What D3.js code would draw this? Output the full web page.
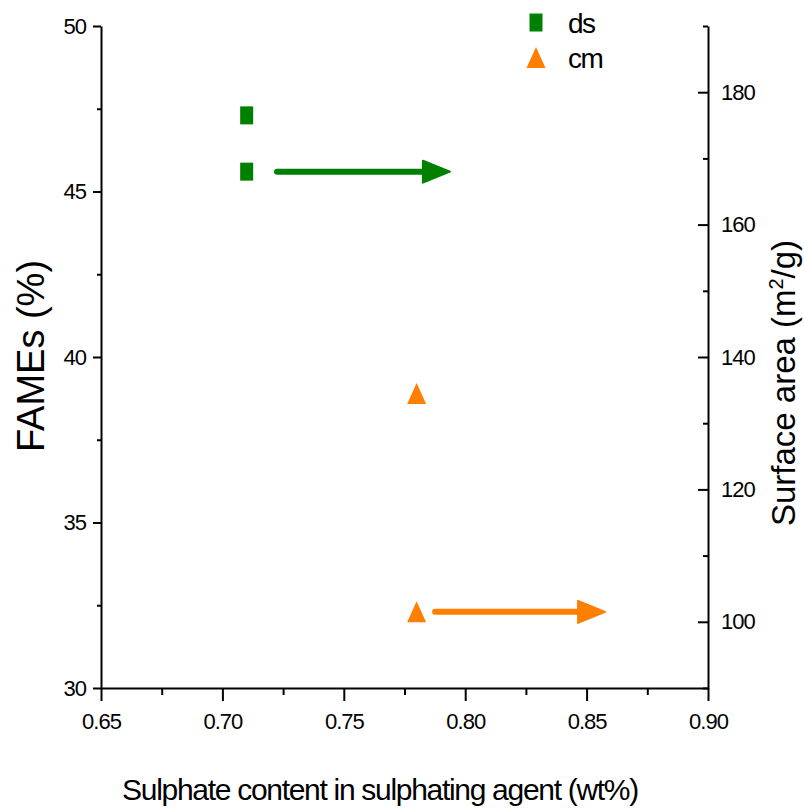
<!DOCTYPE html>
<html>
<head>
<meta charset="utf-8">
<script src="https://cdn.jsdelivr.net/npm/d3@7"></script>
<style>
  body { margin: 0; background: #fff; }
  text { font-family: "Liberation Sans", Arial, sans-serif; fill: #000; }
</style>
</head>
<body>
<script>
// Data
var seriesNames = ["ds", "cm"];
var sulphate = [0.71, 0.78];          // x values (wt%)
var fames = [47.3, 38.9];             // left axis (%)
var surface = [168, 101.5];           // right axis (m2/g)
var colors = ["#008000", "#ff8000"];
// arrows pointing from the surface area point to the right axis (x data units)
var arrowStart = [0.7225, 0.7876];
var arrowEnd = [0.7937, 0.8576];

// Tick values
var xTicks = [0.65, 0.70, 0.75, 0.80, 0.85, 0.90];
var xMinor = [0.675, 0.725, 0.775, 0.825, 0.875];
var yLeftTicks = [30, 35, 40, 45, 50];
var yLeftMinor = [32.5, 37.5, 42.5, 47.5];
var yRightTicks = [100, 120, 140, 160, 180];
var yRightMinor = [90, 110, 130, 150, 170, 190];

var width = 804, height = 808;
var margin = {top: 26, right: 96, bottom: 120, left: 101};
var plotW = width - margin.left - margin.right;
var plotH = height - margin.top - margin.bottom;

var svg = d3.select("body").append("svg")
    .attr("width", width)
    .attr("height", height);

var g = svg.append("g")
    .attr("transform", "translate(" + margin.left + "," + margin.top + ")");

// Scales
var xScale = d3.scaleLinear().domain([0.65, 0.90]).range([0, plotW]);
var yLeft = d3.scaleLinear().domain([30, 50]).range([plotH, 0]);
var yRight = d3.scaleLinear().domain([90, 190]).range([plotH, 0]);

// Axes
function styleAxis(sel) {
  sel.selectAll("path").attr("stroke", "#000").attr("stroke-width", 2);
  sel.selectAll("line").attr("stroke", "#000").attr("stroke-width", 2);
  sel.selectAll("text").style("font-size", "22px").style("letter-spacing", "-1px");
}

var xAxis = g.append("g")
    .attr("transform", "translate(0," + plotH + ")")
    .call(d3.axisBottom(xScale).tickValues(xTicks).tickSize(13).tickSizeOuter(0)
      .tickPadding(12).tickFormat(d3.format(".2f")));
styleAxis(xAxis);
xAxis.selectAll("text").attr("dy", "0.71em");

g.append("g")
    .attr("transform", "translate(0," + plotH + ")")
    .call(d3.axisBottom(xScale).tickValues(xMinor).tickSize(7).tickFormat(""))
    .call(function(s) { s.select(".domain").remove(); styleAxis(s); });

var leftAxis = g.append("g")
    .call(d3.axisLeft(yLeft).tickValues(yLeftTicks).tickSize(8).tickSizeOuter(0).tickPadding(7));
styleAxis(leftAxis);

g.append("g")
    .call(d3.axisLeft(yLeft).tickValues(yLeftMinor).tickSize(4).tickFormat(""))
    .call(function(s) { s.select(".domain").remove(); styleAxis(s); });

var rightAxis = g.append("g")
    .attr("transform", "translate(" + plotW + ",0)")
    .call(d3.axisRight(yRight).tickValues(yRightTicks).tickSize(-10).tickSizeOuter(0).tickPadding(13));
styleAxis(rightAxis);

g.append("g")
    .attr("transform", "translate(" + plotW + ",0)")
    .call(d3.axisRight(yRight).tickValues(yRightMinor).tickSize(-5).tickFormat(""))
    .call(function(s) { s.select(".domain").remove(); styleAxis(s); });

// Markers: square for ds, triangle for cm
function drawMarker(sel, i, cx, cy) {
  if (i === 0) {
    sel.append("rect")
      .attr("x", cx - 6.5).attr("y", cy - 9)
      .attr("width", 13).attr("height", 18)
      .attr("fill", colors[i]);
  } else {
    sel.append("path")
      .attr("d", "M" + cx + "," + (cy - 10.5) + "L" + (cx + 9.5) + "," + (cy + 10.5) +
                 "L" + (cx - 9.5) + "," + (cy + 10.5) + "Z")
      .attr("fill", colors[i]);
  }
}

var marks = g.append("g");
seriesNames.forEach(function(name, i) {
  drawMarker(marks, i, xScale(sulphate[i]), yLeft(fames[i]));
  drawMarker(marks, i, xScale(sulphate[i]), yRight(surface[i]));
});

// Arrows
seriesNames.forEach(function(name, i) {
  var y = yRight(surface[i]);
  var x0 = xScale(arrowStart[i]);
  var x1 = xScale(arrowEnd[i]);
  g.append("line")
    .attr("x1", x0).attr("x2", x1 - 20)
    .attr("y1", y).attr("y2", y)
    .attr("stroke", colors[i])
    .attr("stroke-width", 6)
    .attr("stroke-linecap", "round");
  g.append("path")
    .attr("d", "M" + (x1 - 27) + "," + (y - 11) + "L" + x1 + "," + y +
               "L" + (x1 - 27) + "," + (y + 11) + "Z")
    .attr("fill", colors[i])
    .attr("stroke", colors[i])
    .attr("stroke-width", 2)
    .attr("stroke-linejoin", "round");
});

// Legend
var legend = svg.append("g");
seriesNames.forEach(function(name, i) {
  var ly = 22.5 + i * 35;
  drawMarker(legend, i, 536, ly);
  legend.append("text")
    .attr("x", 568).attr("y", ly + 10)
    .style("font-size", "28px")
    .style("letter-spacing", "-1.5px")
    .text(name);
});

// Axis titles
svg.append("text")
  .attr("x", 380)
  .attr("y", 800)
  .attr("text-anchor", "middle")
  .style("font-size", "30px")
  .style("letter-spacing", "-1.3px")
  .text("Sulphate content in sulphating agent (wt%)");

svg.append("text")
  .attr("transform", "translate(44,356) rotate(-90)")
  .attr("text-anchor", "middle")
  .style("font-size", "38px")
  .text("FAMEs (%)");

var rt = svg.append("text")
  .attr("transform", "translate(795,383) rotate(-90)")
  .attr("text-anchor", "middle")
  .style("font-size", "33px");
rt.append("tspan").text("Surface area (m");
rt.append("tspan").attr("dy", -12).style("font-size", "20px").text("2");
rt.append("tspan").attr("dy", 12).text("/g)");
</script>
</body>
</html>
